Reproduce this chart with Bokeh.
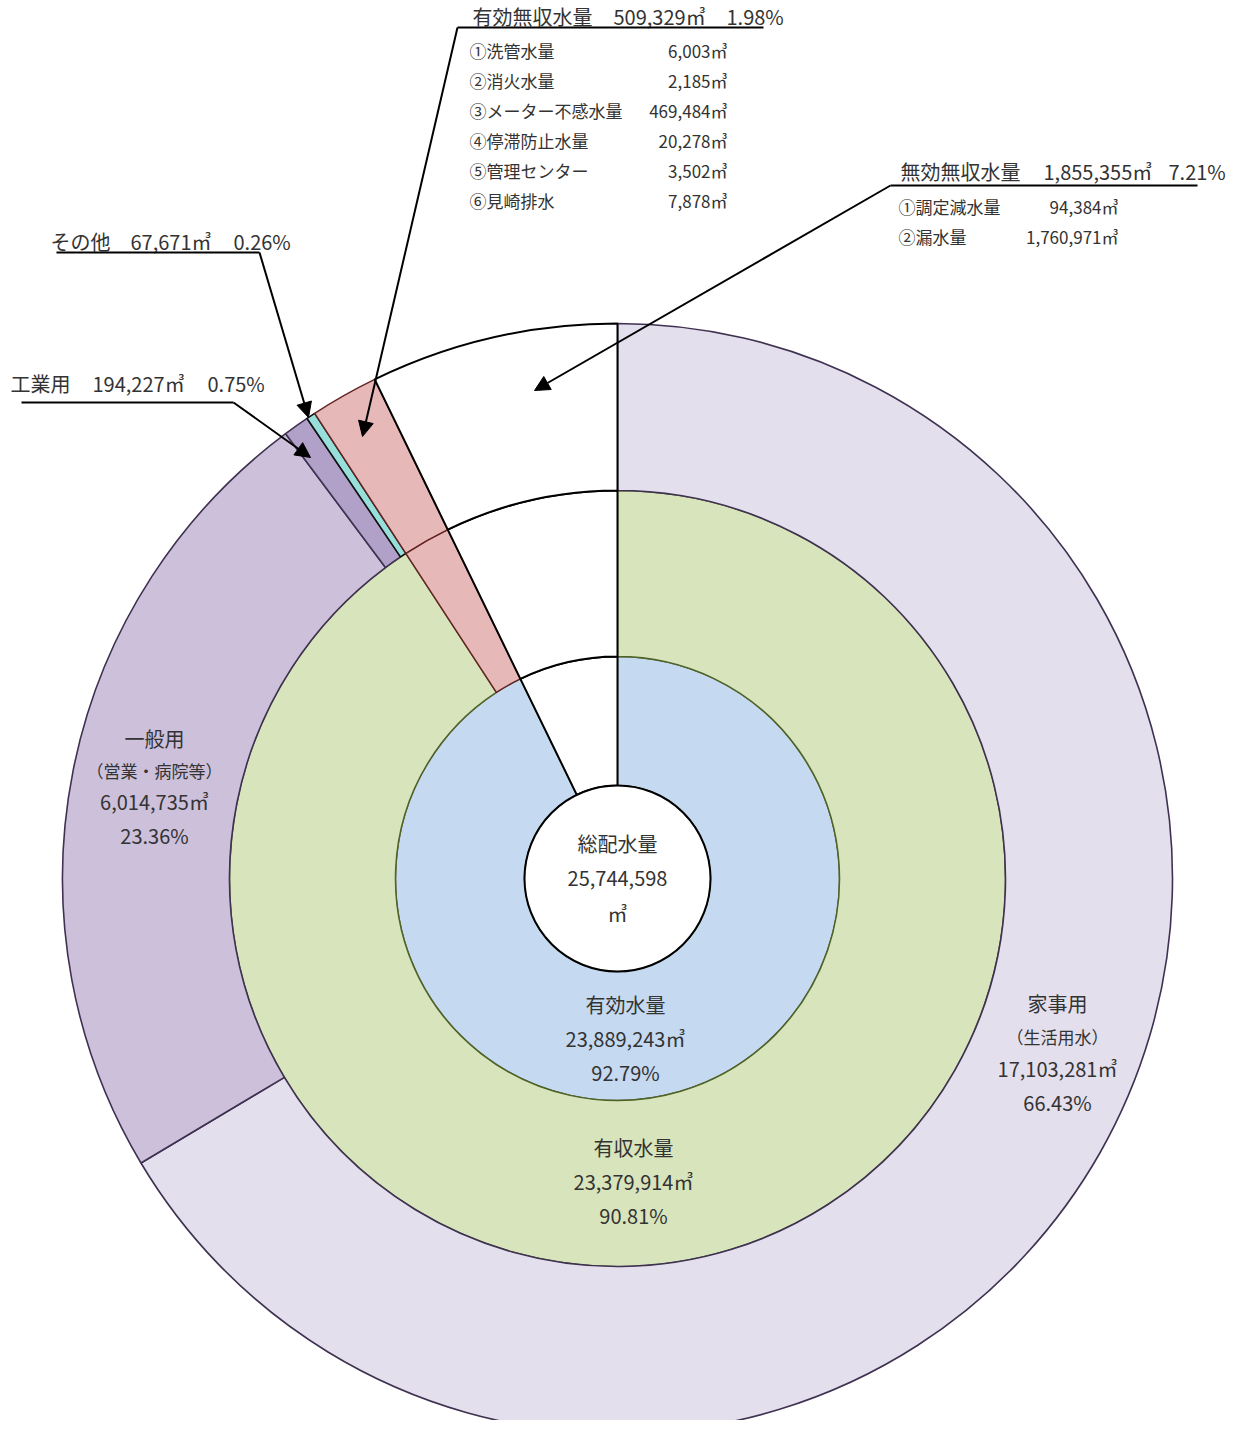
import math
from bokeh.plotting import figure
from bokeh.models import Range1d, Arrow, NormalHead
from bokeh.core.properties import value
from bokeh.embed import file_html
from bokeh.resources import INLINE

# ---------------- data ----------------
total_name = "総配水量"
total_value = 25744598

invalid_name = "無効無収水量"
invalid_value = 1855355
invalid_pct = 7.21

effective_name = "有効水量"
effective_value = 23889243
effective_pct = 92.79

nonrev_name = "有効無収水量"
nonrev_value = 509329
nonrev_pct = 1.98

revenue_name = "有収水量"
revenue_value = 23379914
revenue_pct = 90.81

use_names = ["その他", "工業用", "一般用", "家事用"]
use_notes = ["", "", "（営業・病院等）", "（生活用水）"]
use_values = [67671, 194227, 6014735, 17103281]
use_pcts = [0.26, 0.75, 23.36, 66.43]

nonrev_items = ["①洗管水量", "②消火水量", "③メーター不感水量", "④停滞防止水量", "⑤管理センター", "⑥見崎排水"]
nonrev_item_values = [6003, 2185, 469484, 20278, 3502, 7878]

invalid_items = ["①調定減水量", "②漏水量"]
invalid_item_values = [94384, 1760971]

# ---------------- styles ----------------
C_WHITE = "#ffffff"
C_BLUE = "#c5d9f1"
C_GREEN = "#d8e4bc"
C_PINK = "#e6b8b7"
C_USE = ["#96dfda", "#b1a0c7", "#ccc0da", "#e4dfec"]
L_USE = ["#111111", "#3f3151", "#3f3151", "#3f3151"]
L_PINK = "#632523"
L_GREEN = "#4f6228"
TEXT_C = "#333333"

W, H = 1228, 1420
REF_H = 1436
TOP = 2  # first reference row shown

p = figure(width=W, height=H, output_backend="svg", toolbar_location=None,
           x_range=Range1d(0, W), y_range=Range1d(REF_H - TOP - H, REF_H - TOP),
           min_border=0)
p.axis.visible = False
p.grid.visible = False
p.outline_line_color = None
p.background_fill_color = "white"


def Y(y):
    return REF_H - y


CX, CY = 617, Y(880)
R0, R1, R2, R3 = 93, 222, 388, 555
FONT = value("Noto Sans CJK JP")


def angles(values):
    out = []
    a = math.pi / 2
    for v in values:
        s = 2 * math.pi * v / total_value
        out.append((a, a + s))
        a += s
    return out


def wedge(r_in, r_out, ang, fill, line, lw):
    p.annular_wedge(x=[CX], y=[CY], inner_radius=r_in, outer_radius=r_out,
                    start_angle=ang[0], end_angle=ang[1], direction="anticlock",
                    fill_color=fill, line_color=line, line_width=lw)


inner_ang = angles([invalid_value, effective_value])
middle_ang = angles([invalid_value, nonrev_value, revenue_value])
outer_ang = angles([invalid_value, nonrev_value] + use_values)

# inner ring colored
wedge(R0, R1, inner_ang[1], C_BLUE, L_GREEN, 1.5)
# middle ring colored
wedge(R1, R2, middle_ang[2], C_GREEN, L_GREEN, 1.5)
wedge(R1, R2, middle_ang[1], C_PINK, L_PINK, 1.5)
# outer ring colored (家事用 -> その他)
for i in [3, 2, 1, 0]:
    wedge(R2, R3, outer_ang[2 + i], C_USE[i], L_USE[i], 1.6)
wedge(R2, R3, outer_ang[1], C_PINK, L_PINK, 1.5)
# white (無効無収) segments
wedge(R0, R1, inner_ang[0], C_WHITE, "black", 2)
wedge(R1, R2, middle_ang[0], C_WHITE, "black", 2)
wedge(R2, R3, outer_ang[0], C_WHITE, "black", 2)
# center
p.circle(x=[CX], y=[CY], radius=R0, fill_color="white", line_color="black", line_width=2)


def txt(x, y, s, size=20, align="left"):
    p.text(x=[x], y=[Y(y)], text=[s], text_font=FONT,
           text_font_size=f"{size}px", text_align=align,
           text_baseline="middle", text_color=TEXT_C)


def fmt(v):
    return f"{v:,}㎥"


def pct(v):
    return f"{v:.2f}%"


# center text
txt(617, 845, total_name, align="center")
txt(617, 880, f"{total_value:,}", align="center")
txt(617, 915, "㎥", align="center")

txt(625, 1006, effective_name, align="center")
txt(625, 1040, fmt(effective_value), align="center")
txt(625, 1074, pct(effective_pct), align="center")

txt(633, 1149, revenue_name, align="center")
txt(633, 1183, fmt(revenue_value), align="center")
txt(633, 1217, pct(revenue_pct), align="center")

# ring labels for 一般用 / 家事用
lab_pos = {2: (154, [740, 772, 803, 837]), 3: (1057, [1005, 1038, 1070, 1104])}
for i, (lx, ys) in lab_pos.items():
    txt(lx, ys[0], use_names[i], align="center")
    txt(lx, ys[1], use_notes[i], size=17, align="center")
    txt(lx, ys[2], fmt(use_values[i]), align="center")
    txt(lx, ys[3], pct(use_pcts[i]), align="center")


def callout(name, val, pc, ty, xs, uline, tip):
    txt(xs[0], ty, name)
    txt(xs[1], ty, fmt(val))
    txt(xs[2], ty, pct(pc))
    ux0, ux1, uy = uline
    p.line(x=[ux0, ux1], y=[Y(uy), Y(uy)], line_color="black", line_width=2)
    ax = ux0 if tip[2] == "L" else ux1
    p.add_layout(Arrow(end=NormalHead(size=15, fill_color="black", line_color="black"),
                       x_start=ax, y_start=Y(uy), x_end=tip[0], y_end=Y(tip[1]),
                       line_color="black", line_width=2))


callout(nonrev_name, nonrev_value, nonrev_pct, 18, (472, 613, 726), (457, 763, 29), (362, 438, "L"))
callout(invalid_name, invalid_value, invalid_pct, 173, (900, 1043, 1168), (890, 1197, 187), (534, 392, "L"))
callout(use_names[0], use_values[0], use_pcts[0], 243, (50, 130, 233), (56, 259, 254), (308, 419, "R"))
callout(use_names[1], use_values[1], use_pcts[1], 385, (10, 92, 207), (21, 233, 404), (310, 459, "R"))

# sub items
for j, (nm, v) in enumerate(zip(nonrev_items, nonrev_item_values)):
    yy = 52 + 30 * j
    txt(469, yy, nm, size=17)
    txt(727, yy, fmt(v), size=17, align="right")

for j, (nm, v) in enumerate(zip(invalid_items, invalid_item_values)):
    yy = 208 + 29.5 * j
    txt(898, yy, nm, size=17)
    txt(1118, yy, fmt(v), size=17, align="right")

open("out.html", "w").write(file_html(p, INLINE))
